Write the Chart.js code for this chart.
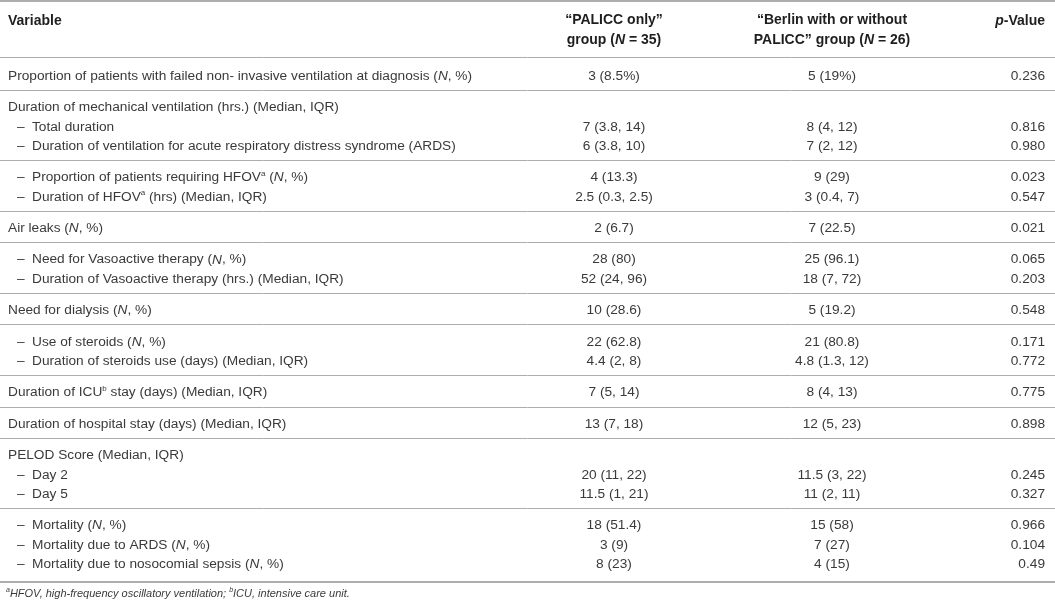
<!DOCTYPE html>
<html>
<head>
<meta charset="utf-8">
<script src="https://cdn.jsdelivr.net/npm/chart.js@4.4.1/dist/chart.umd.min.js"></script>
<style>
    html, body { margin: 0; padding: 0; background: #fff; }
    #wrap { width: 1055px; height: 607px; position: relative; }
</style>
</head>
<body>
<div id="wrap"><canvas id="tableChart"></canvas></div>
<script>
// _x_ = italic, ^a = superscript letter, leading "– " = sub item
var headers = ['Variable', '“PALICC only”\ngroup (_N_ = 35)', '“Berlin with or without\nPALICC” group (_N_ = 26)', '_p_-Value'];

var variables = [
    'Proportion of patients with failed non- invasive ventilation at diagnosis (_N_, %)',
    'Duration of mechanical ventilation (hrs.) (Median, IQR)',
    '– Total duration',
    '– Duration of ventilation for acute respiratory distress syndrome (ARDS)',
    '– Proportion of patients requiring HFOV^a (_N_, %)',
    '– Duration of HFOV^a (hrs) (Median, IQR)',
    'Air leaks (_N_, %)',
    '– Need for Vasoactive therapy (_N_, %)',
    '– Duration of Vasoactive therapy (hrs.) (Median, IQR)',
    'Need for dialysis (_N_, %)',
    '– Use of steroids (_N_, %)',
    '– Duration of steroids use (days) (Median, IQR)',
    'Duration of ICU^b stay (days) (Median, IQR)',
    'Duration of hospital stay (days) (Median, IQR)',
    'PELOD Score (Median, IQR)',
    '– Day 2',
    '– Day 5',
    '– Mortality (_N_, %)',
    '– Mortality due to ARDS (_N_, %)',
    '– Mortality due to nosocomial sepsis (_N_, %)'
];
var palicc = ['3 (8.5%)', '', '7 (3.8, 14)', '6 (3.8, 10)', '4 (13.3)', '2.5 (0.3, 2.5)', '2 (6.7)', '28 (80)', '52 (24, 96)',
    '10 (28.6)', '22 (62.8)', '4.4 (2, 8)', '7 (5, 14)', '13 (7, 18)', '', '20 (11, 22)', '11.5 (1, 21)', '18 (51.4)', '3 (9)', '8 (23)'];
var berlin = ['5 (19%)', '', '8 (4, 12)', '7 (2, 12)', '9 (29)', '3 (0.4, 7)', '7 (22.5)', '25 (96.1)', '18 (7, 72)',
    '5 (19.2)', '21 (80.8)', '4.8 (1.3, 12)', '8 (4, 13)', '12 (5, 23)', '', '11.5 (3, 22)', '11 (2, 11)', '15 (58)', '7 (27)', '4 (15)'];
var pValues = ['0.236', '', '0.816', '0.980', '0.023', '0.547', '0.021', '0.065', '0.203',
    '0.548', '0.171', '0.772', '0.775', '0.898', '', '0.245', '0.327', '0.966', '0.104', '0.49'];
// which ruled block each row belongs to
var groups = [0, 1, 1, 1, 2, 2, 3, 4, 4, 5, 6, 6, 7, 8, 9, 9, 9, 10, 10, 10];
var footnote = '^aHFOV, high-frequency oscillatory ventilation; ^bICU, intensive care unit.';

// layout (y in text-line units, x in page units)
var colX = { variable: 8, dash: 17, sub: 32, palicc: 614, berlin: 832, p: 1045 };
var LINE_PX = 19.3;
var FIRST_ROW = 2.9, BLOCK_GAP = 1.63, RULE_AFTER = 0.75;
var BODY_SIZE = 13.7, HEAD_SIZE = 14, NOTE_SIZE = 11;

var rowY = [];
var rules = [-0.98, 1.92];
groups.forEach(function (g, i) {
    if (i === 0) {
        rowY.push(FIRST_ROW);
    } else if (g !== groups[i - 1]) {
        rules.push(rowY[i - 1] + RULE_AFTER);
        rowY.push(rowY[i - 1] + BLOCK_GAP);
    } else {
        rowY.push(rowY[i - 1] + 1);
    }
});
var bottomRule = rowY[rowY.length - 1] + 0.93;
rules.push(bottomRule);
var footY = bottomRule + 0.6;

var yMin = -20 / LINE_PX;
var yMax = yMin + 607 / LINE_PX;

function drawRich(ctx, str, x, y, align, size, bold, forceItalic, color) {
    var parts = [];
    var italic = !!forceItalic;
    var buf = '';
    for (var i = 0; i < str.length; i++) {
        var c = str[i];
        if (c === '_') {
            if (buf) parts.push({ t: buf, it: italic, sup: false });
            buf = '';
            italic = !italic;
        } else if (c === '^') {
            if (buf) parts.push({ t: buf, it: italic, sup: false });
            buf = '';
            parts.push({ t: str[i + 1], it: italic, sup: true });
            i++;
        } else {
            buf += c;
        }
    }
    if (buf) parts.push({ t: buf, it: italic, sup: false });

    function font(p) {
        var s = p.sup ? Math.round(size * 0.62) : size;
        return (p.it ? 'italic ' : '') + (bold ? 'bold ' : '') + s + 'px "Liberation Sans", Arial, sans-serif';
    }
    var total = 0;
    parts.forEach(function (p) {
        ctx.font = font(p);
        p.w = ctx.measureText(p.t).width;
        total += p.w;
    });
    var cx = x;
    if (align === 'center') cx = x - total / 2;
    if (align === 'right') cx = x - total;
    ctx.fillStyle = color;
    ctx.textAlign = 'left';
    ctx.textBaseline = 'middle';
    parts.forEach(function (p) {
        ctx.font = font(p);
        ctx.fillText(p.t, cx, p.sup ? y - size * 0.3 : y);
        cx += p.w;
    });
}

var tablePlugin = {
    id: 'tableText',
    afterDraw: function (chart) {
        var ctx = chart.ctx;
        var x = chart.scales.x, y = chart.scales.y;
        var body = '#3a3a3a', head = '#1e1e1e';
        ctx.save();

        // header
        drawRich(ctx, headers[0], x.getPixelForValue(colX.variable), y.getPixelForValue(0.05), 'left', HEAD_SIZE, true, false, head);
        [[headers[1], colX.palicc], [headers[2], colX.berlin]].forEach(function (h) {
            h[0].split('\n').forEach(function (line, k) {
                drawRich(ctx, line, x.getPixelForValue(h[1]), y.getPixelForValue(k * 1.04), 'center', HEAD_SIZE, true, false, head);
            });
        });
        drawRich(ctx, headers[3], x.getPixelForValue(colX.p), y.getPixelForValue(0.05), 'right', HEAD_SIZE, true, false, head);

        // rows
        variables.forEach(function (label, i) {
            var py = y.getPixelForValue(rowY[i]);
            if (label.indexOf('– ') === 0) {
                drawRich(ctx, '–', x.getPixelForValue(colX.dash), py, 'left', BODY_SIZE, false, false, body);
                drawRich(ctx, label.slice(2), x.getPixelForValue(colX.sub), py, 'left', BODY_SIZE, false, false, body);
            } else {
                drawRich(ctx, label, x.getPixelForValue(colX.variable), py, 'left', BODY_SIZE, false, false, body);
            }
            drawRich(ctx, palicc[i], x.getPixelForValue(colX.palicc), py, 'center', BODY_SIZE, false, false, body);
            drawRich(ctx, berlin[i], x.getPixelForValue(colX.berlin), py, 'center', BODY_SIZE, false, false, body);
            drawRich(ctx, pValues[i], x.getPixelForValue(colX.p), py, 'right', BODY_SIZE, false, false, body);
        });

        drawRich(ctx, footnote, x.getPixelForValue(colX.variable - 2), y.getPixelForValue(footY), 'left', NOTE_SIZE, false, true, body);
        ctx.restore();
    }
};

var tableChart = new Chart(document.getElementById('tableChart'), {
    type: 'scatter',
    data: { datasets: [] },
    options: {
        responsive: true,
        maintainAspectRatio: false,
        animation: false,
        layout: { padding: 0 },
        plugins: { legend: { display: false }, tooltip: { enabled: false } },
        scales: {
            x: { type: 'linear', display: false, min: 0, max: 1055 },
            y: {
                type: 'linear',
                reverse: true,
                min: yMin,
                max: yMax,
                afterBuildTicks: function (axis) {
                    axis.ticks = rules.map(function (v) { return { value: v }; });
                },
                afterFit: function (axis) { axis.width = 0; },
                ticks: { display: false },
                border: { display: false },
                grid: {
                    drawTicks: false,
                    color: '#adadad',
                    lineWidth: function (c) {
                        return (c.index === 0 || c.index === rules.length - 1) ? 2 : 1;
                    }
                }
            }
        }
    },
    plugins: [tablePlugin]
});
</script>
</body>
</html>
